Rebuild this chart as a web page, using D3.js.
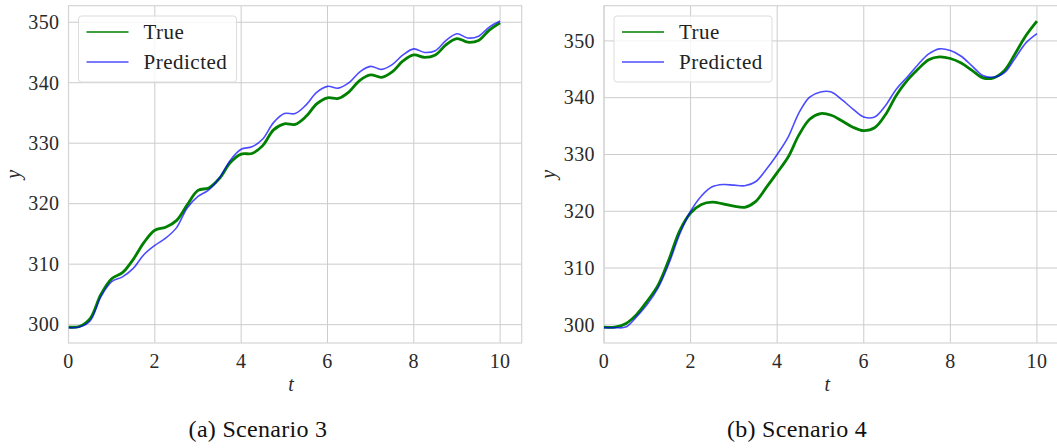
<!DOCTYPE html>
<html>
<head>
<meta charset="utf-8">
<script src="https://d3js.org/d3.v7.min.js"></script>
<style>
  body { margin: 0; background: #fff; }
  svg { display: block; }
</style>
</head>
<body>
<svg width="1057" height="448"></svg>
<script>
// time axis shared by both scenarios
let tValues = [0, 0.25, 0.5, 0.75, 1, 1.25, 1.5, 1.75, 2, 2.25, 2.5, 2.75, 3, 3.25, 3.5, 3.75,
  4, 4.25, 4.5, 4.75, 5, 5.25, 5.5, 5.75, 6, 6.25, 6.5, 6.75, 7, 7.25, 7.5, 7.75,
  8, 8.25, 8.5, 8.75, 9, 9.25, 9.5, 9.75, 10];

// scenario 3
let trueS3 = [299.6, 299.7, 301.0, 305.0, 307.6, 308.6, 310.8, 313.6, 315.6, 316.1, 317.2, 319.8,
  322.2, 322.6, 324.2, 326.8, 328.2, 328.3, 329.6, 332.2, 333.2, 333.1, 334.4, 336.5,
  337.5, 337.4, 338.5, 340.4, 341.3, 340.9, 341.8, 343.6, 344.6, 344.2, 344.6, 346.3,
  347.3, 346.7, 347.0, 348.7, 349.9];
let predS3 = [299.5, 299.6, 300.6, 304.6, 307.1, 307.9, 309.3, 311.6, 313.1, 314.3, 316.0, 319.3,
  321.2, 322.3, 324.3, 327.2, 329.0, 329.4, 330.7, 333.4, 334.9, 334.9, 336.3, 338.4,
  339.4, 339.1, 340.0, 341.8, 342.7, 342.2, 343.0, 344.6, 345.6, 345.0, 345.3, 347.0,
  348.1, 347.4, 347.7, 349.2, 350.2];

// scenario 4
let trueS4 = [299.6, 299.6, 300.2, 301.8, 304.2, 307.0, 311.5, 316.6, 319.7, 321.2, 321.6, 321.3,
  320.9, 320.7, 321.7, 324.2, 326.8, 329.5, 333.4, 336.2, 337.2, 336.9, 335.9, 334.8,
  334.2, 334.7, 337.0, 340.4, 343.0, 345.0, 346.7, 347.2, 346.9, 346.1, 344.8, 343.5,
  343.5, 344.8, 347.8, 351.0, 353.5];
let predS4 = [299.5, 299.5, 299.6, 301.4, 303.6, 306.5, 310.8, 316.0, 320.0, 322.7, 324.3, 324.7,
  324.6, 324.5, 325.2, 327.4, 330.0, 333.0, 337.3, 340.1, 341.0, 341.0, 339.6, 338.0,
  336.6, 336.6, 338.6, 341.5, 343.6, 345.8, 347.7, 348.6, 348.3, 347.3, 345.6, 343.9,
  343.6, 344.4, 347.0, 349.7, 351.3];

let xTicks = [0, 2, 4, 6, 8, 10];
let yTicks = [300, 310, 320, 330, 340, 350];
let seriesNames = ['True', 'Predicted'];
let captions = ['(a) Scenario 3', '(b) Scenario 4'];

let font = "'Liberation Serif', 'DejaVu Serif', serif";
let gridColor = '#cccccc';

let panels = [
  { left: 68.5, right: 521.7, caption: captions[0], capX: 258, series: [trueS3, predS3] },
  { left: 604, right: 1058.6, caption: captions[1], capX: 797, series: [trueS4, predS4] },
];
let plotTop = 5.7, plotBottom = 343;

let svg = d3.select('svg');

panels.forEach(function(p) {
  let g = svg.append('g');
  let all = p.series[0].concat(p.series[1]);
  let lo = d3.min(all), hi = d3.max(all);
  let pad = (hi - lo) * 0.05;

  let x = d3.scaleLinear().domain([0, 10.5]).range([p.left, p.right]);
  let y = d3.scaleLinear().domain([lo - pad, hi + pad]).range([plotBottom, plotTop]);

  // grid
  g.append('g')
    .selectAll('line')
    .data(xTicks)
    .enter()
    .append('line')
    .attr('x1', function(d) { return x(d); })
    .attr('x2', function(d) { return x(d); })
    .attr('y1', plotTop)
    .attr('y2', plotBottom)
    .attr('stroke', gridColor)
    .attr('stroke-width', 1);
  g.append('g')
    .selectAll('line')
    .data(yTicks)
    .enter()
    .append('line')
    .attr('x1', p.left)
    .attr('x2', p.right)
    .attr('y1', function(d) { return y(d); })
    .attr('y2', function(d) { return y(d); })
    .attr('stroke', gridColor)
    .attr('stroke-width', 1);

  // frame
  g.append('rect')
    .attr('x', p.left)
    .attr('y', plotTop)
    .attr('width', p.right - p.left)
    .attr('height', plotBottom - plotTop)
    .attr('fill', 'none')
    .attr('stroke', '#d4d4d4')
    .attr('stroke-width', 1.2);

  // tick labels
  g.append('g')
    .selectAll('text')
    .data(xTicks)
    .enter()
    .append('text')
    .attr('x', function(d) { return x(d); })
    .attr('y', 368)
    .attr('text-anchor', 'middle')
    .attr('font-family', font)
    .attr('font-size', 20)
    .attr('letter-spacing', 0.4)
    .attr('fill', '#2a2a2a')
    .text(function(d) { return d; });
  g.append('g')
    .selectAll('text')
    .data(yTicks)
    .enter()
    .append('text')
    .attr('x', p.left - 9)
    .attr('y', function(d) { return y(d); })
    .attr('dy', '0.34em')
    .attr('text-anchor', 'end')
    .attr('font-family', font)
    .attr('font-size', 20)
    .attr('letter-spacing', 0.4)
    .attr('fill', '#2a2a2a')
    .text(function(d) { return d; });

  // axis labels
  g.append('text')
    .attr('x', (p.left + p.right) / 2 - 4)
    .attr('y', 391)
    .attr('text-anchor', 'middle')
    .attr('font-family', font)
    .attr('font-style', 'italic')
    .attr('font-size', 20)
    .attr('fill', '#2a2a2a')
    .text('t');
  g.append('text')
    .attr('transform', 'translate(' + (p.left - 49) + ',' + ((plotTop + plotBottom) / 2) + ') rotate(-90)')
    .attr('text-anchor', 'middle')
    .attr('font-family', font)
    .attr('font-style', 'italic')
    .attr('font-size', 20)
    .attr('fill', '#2a2a2a')
    .text('y');

  // lines, clipped to the plot area
  let clipId = 'clip' + Math.round(p.left);
  svg.append('clipPath').attr('id', clipId)
    .append('rect')
    .attr('x', p.left).attr('y', plotTop)
    .attr('width', p.right - p.left).attr('height', plotBottom - plotTop);

  let line = d3.line()
    .x(function(d, i) { return x(tValues[i]); })
    .y(function(d) { return y(d); })
    .curve(d3.curveCatmullRom);

  g.append('path')
    .attr('d', line(p.series[0]))
    .attr('clip-path', 'url(#' + clipId + ')')
    .attr('fill', 'none')
    .attr('stroke', 'green')
    .attr('stroke-width', 2.8);
  g.append('path')
    .attr('d', line(p.series[1]))
    .attr('clip-path', 'url(#' + clipId + ')')
    .attr('fill', 'none')
    .attr('stroke', 'blue')
    .attr('stroke-opacity', 0.7)
    .attr('stroke-width', 1.6);

  // legend
  let lg = g.append('g').attr('transform', 'translate(' + (p.left + 10) + ',16)');
  lg.append('rect')
    .attr('x', 0).attr('y', 0)
    .attr('width', 158).attr('height', 66)
    .attr('rx', 3)
    .attr('fill', '#fff')
    .attr('fill-opacity', 0.8)
    .attr('stroke', '#dcdcdc')
    .attr('stroke-width', 1);
  let colors = ['green', 'rgba(0,0,255,0.7)'];
  seriesNames.forEach(function(name, i) {
    let yy = 16 + i * 30;
    lg.append('line')
      .attr('x1', 8).attr('x2', 50)
      .attr('y1', yy).attr('y2', yy)
      .attr('stroke', colors[i])
      .attr('stroke-width', 1.6);
    lg.append('text')
      .attr('x', 65)
      .attr('y', yy)
      .attr('dy', '0.35em')
      .attr('font-family', font)
      .attr('font-size', 21)
      .attr('letter-spacing', 0.5)
      .attr('fill', '#222')
      .text(name);
  });

  // caption
  svg.append('text')
    .attr('x', p.capX)
    .attr('y', 437)
    .attr('text-anchor', 'middle')
    .attr('font-family', font)
    .attr('font-size', 24)
    .attr('letter-spacing', 0.3)
    .attr('fill', '#111')
    .text(p.caption);
});
</script>
</body>
</html>
